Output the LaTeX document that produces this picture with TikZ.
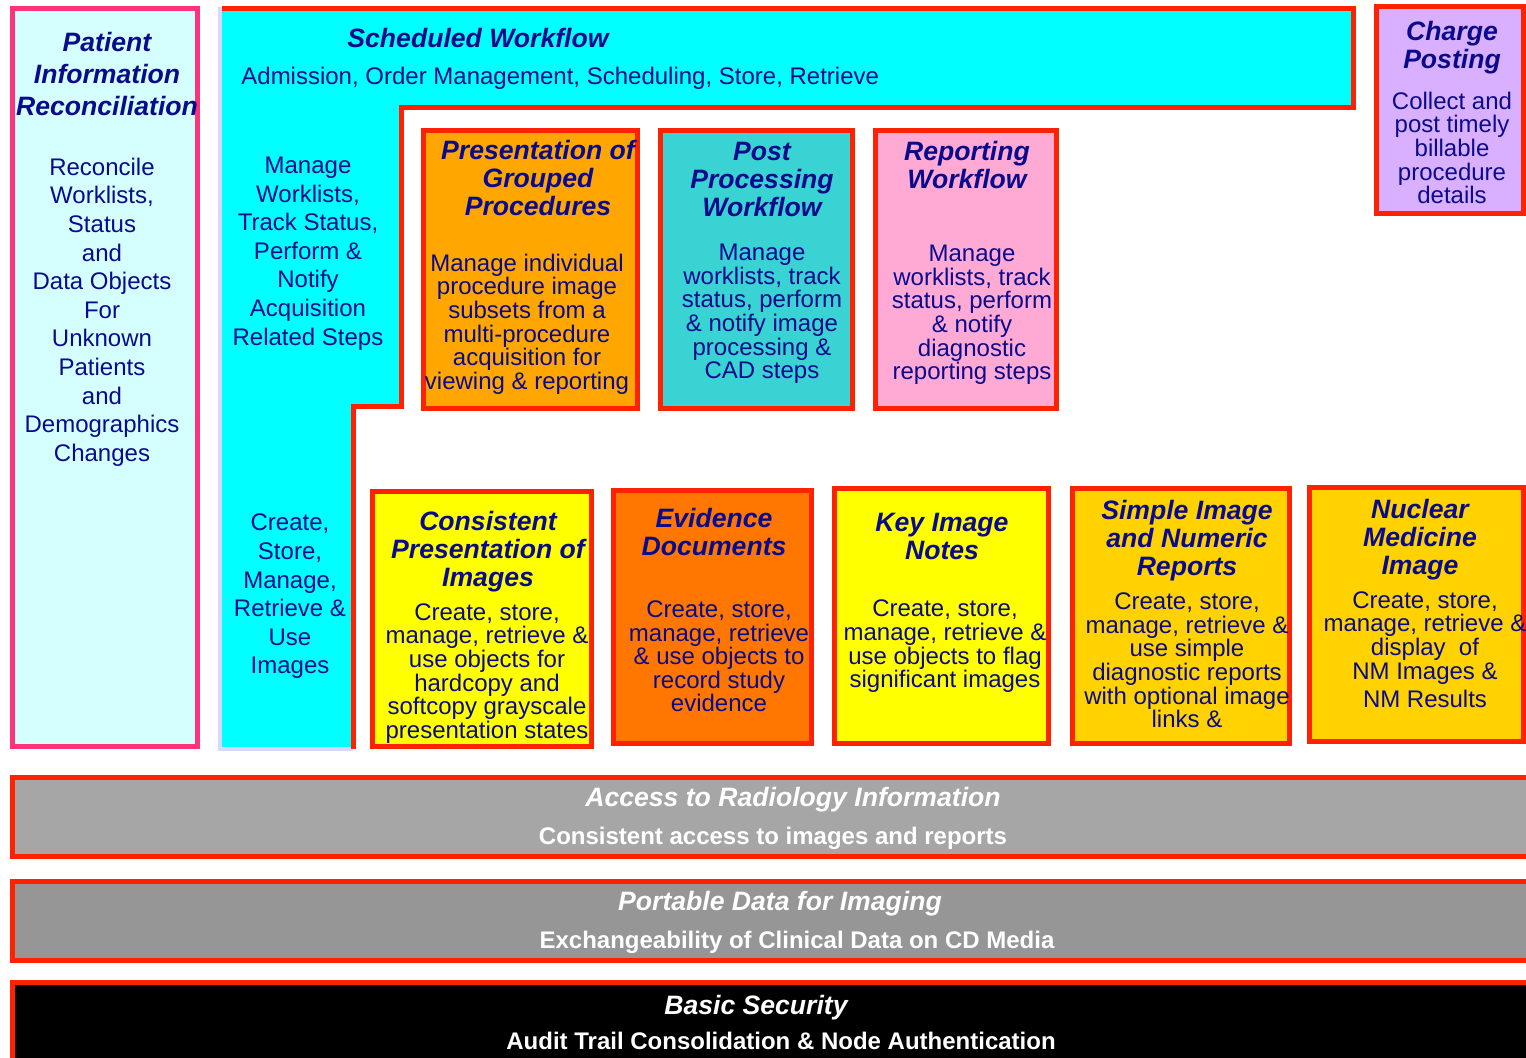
\documentclass[tikz,border=0pt]{standalone}
\usepackage{fontspec}
\setmainfont{Liberation Sans}
\usepackage{xcolor}
\usetikzlibrary{arrows,shapes,calc,positioning}
\definecolor{ink}{RGB}{10,10,140}
\definecolor{redline}{RGB}{255,34,0}
\definecolor{pinkline}{RGB}{255,51,119}
\definecolor{palecyan}{RGB}{213,255,255}
\definecolor{swfcyan}{RGB}{0,255,255}
\definecolor{lavline}{RGB}{216,216,248}
\definecolor{grpfill}{RGB}{255,166,0}
\definecolor{postfill}{RGB}{58,211,211}
\definecolor{repfill}{RGB}{255,170,212}
\definecolor{chgfill}{RGB}{217,176,255}
\definecolor{evfill}{RGB}{255,119,0}
\definecolor{yelfill}{RGB}{255,255,0}
\definecolor{goldfill}{RGB}{255,210,0}
\definecolor{accgray}{RGB}{166,166,166}
\definecolor{pdigray}{RGB}{150,150,150}

\begin{document}
\begin{tikzpicture}[x=0.5pt,y=-0.5pt]
		\tikzstyle{every node}=[inner sep=0pt, align=center, text=ink]
		\tikzstyle{ttl}=[font=\fontsize{13.3}{14}\selectfont\bfseries\itshape]
		\tikzstyle{body}=[font=\fontsize{12}{11.8}\selectfont, yshift=-1pt]
		\tikzstyle{wide}=[font=\fontsize{12}{14.3}\selectfont, yshift=-1pt]
		\tikzstyle{bartext}=[text=white, font=\fontsize{12}{14}\selectfont\bfseries, yshift=-1pt]
		\tikzstyle{box}=[line width=2.5pt, draw=redline]
		\clip (0,0) rectangle (1526,1058);
		\fill [white] (0,0) rectangle (1526,1058);
		% left column
		\draw [line width=2.5pt, draw=pinkline, fill=palecyan] (12.5,8.5) rectangle (197.5,746.5);
		\node [ttl, font=\fontsize{13.3}{16}\selectfont\bfseries\itshape] (pirtitle) at (107,74) {Patient\\Information\\Reconciliation};
		\node [wide] (pirtext) at (102,310) {Reconcile\\Worklists,\\Status\\and\\Data Objects\\For\\Unknown\\Patients\\and\\Demographics\\Changes};
		% scheduled workflow
		\fill [swfcyan] (222,8.5) -- (1353.5,8.5) -- (1353.5,108) -- (401,108) -- (401,406.5) -- (353,406.5) -- (353,747) -- (222,747) -- cycle;
		\draw [line width=2pt, lavline] (220,7) -- (220,748.5) -- (353,748.5);
		\draw [box] (222,8.5) -- (1353.5,8.5) -- (1353.5,108) -- (401,108) -- (401,406.5) -- (353,406.5) -- (353,749);
		\node [ttl] (swftitle) at (478,38) {Scheduled Workflow};
		\node [wide, anchor=west] (swfsub) at (241,76) {Admission, Order Management, Scheduling, Store, Retrieve};
		\node [wide] (swftext) at (308,251.5) {Manage\\Worklists,\\Track Status,\\Perform \&\\Notify\\Acquisition\\Related Steps};
		\node [wide] (cpitext) at (290,594.5) {Create,\\Store,\\Manage,\\Retrieve \&\\Use\\Images};
		% top row
		\draw [box, fill=grpfill] (423.5,130.5) rectangle (637.5,408.5);
		\node [ttl] (pgptitle) at (538,178) {Presentation of\\Grouped\\Procedures};
		\node [body] (pgptext) at (527,322) {Manage individual\\procedure image\\subsets from a\\multi-procedure\\acquisition for\\viewing \& reporting};
		\draw [box, fill=postfill] (660.5,130.5) rectangle (852.5,408.5);
		\node [ttl] (pwftitle) at (762,179.5) {Post\\Processing\\Workflow};
		\node [body] (pwftext) at (762,312) {Manage\\worklists, track\\status, perform\\\& notify image\\processing \&\\CAD steps};
		\draw [box, fill=repfill] (875.5,130.5) rectangle (1056.5,408.5);
		\node [ttl] (rwftitle) at (967,165) {Reporting\\Workflow};
		\node [body] (rwftext) at (972,313) {Manage\\worklists, track\\status, perform\\\& notify\\diagnostic\\reporting steps};
		\draw [box, fill=chgfill] (1376.5,6.5) rectangle (1523.5,213.5);
		\node [ttl] (chgtitle) at (1452,48) {Charge\\Posting};
		\node [body] (chgtext) at (1452,146) {Collect and\\post timely\\billable\\procedure\\details};
		% bottom row
		\draw [box, fill=yelfill] (372.5,491.5) rectangle (591.5,746.5);
		\node [ttl] (cpititle) at (488,552) {Consistent\\Presentation of\\Images};
		\node [body] (cpibody) at (487,671.5) {Create, store,\\manage, retrieve \&\\use objects for\\hardcopy and\\softcopy grayscale\\presentation states};
		\draw [box, fill=evfill] (613.5,490.5) rectangle (811.5,743.5);
		\node [ttl] (edtitle) at (714,532) {Evidence\\Documents};
		\node [body] (edtext) at (719,654.5) {Create, store,\\manage, retrieve\\\& use objects to\\record study\\evidence};
		\draw [box, fill=yelfill] (834.5,488.5) rectangle (1048.5,743.5);
		\node [ttl] (kintitle) at (942,536) {Key Image\\Notes};
		\node [body] (kintext) at (945,644.5) {Create, store,\\manage, retrieve \&\\use objects to flag\\significant images};
		\draw [box, fill=goldfill] (1072.5,488.5) rectangle (1289.5,743.5);
		\node [ttl] (sintitle) at (1187,541) {Simple Image\\and Numeric\\Reports};
		\node [body] (sintext) at (1187,658.5) {Create, store,\\manage, retrieve \&\\use simple\\diagnostic reports\\with optional image\\links \&};
		\draw [box, fill=goldfill] (1309.5,487.5) rectangle (1523.5,741.5);
		\node [ttl] (nmtitle) at (1420,540) {Nuclear\\Medicine\\Image};
		\node [body] (nmtext) at (1425,647.5) {Create, store,\\manage, retrieve \&\\display\ \ of\\NM Images \&\\[2.2pt]NM Results};
		% bars
		\draw [box, fill=accgray] (12.5,777.5) rectangle (1540,856.5);
		\node [bartext, font=\fontsize{13.3}{14}\selectfont\bfseries\itshape] (artitle) at (793,798) {Access to Radiology Information};
		\node [bartext] (artext) at (773,836) {Consistent access to images and reports};
		\draw [box, fill=pdigray] (12.5,881.5) rectangle (1540,960.5);
		\node [bartext, font=\fontsize{13.3}{14}\selectfont\bfseries\itshape] (pdititle) at (780,902) {Portable Data for Imaging};
		\node [bartext] (pditext) at (797,940) {Exchangeability of Clinical Data on CD Media};
		\draw [box, fill=black] (12.5,982.5) rectangle (1540,1070);
		\node [bartext, font=\fontsize{13.3}{14}\selectfont\bfseries\itshape] (bsectitle) at (756,1006) {Basic Security};
		\node [bartext] (bsectext) at (781,1039) {Audit Trail Consolidation \& Node Authentication};
	\end{tikzpicture}
\end{document}
